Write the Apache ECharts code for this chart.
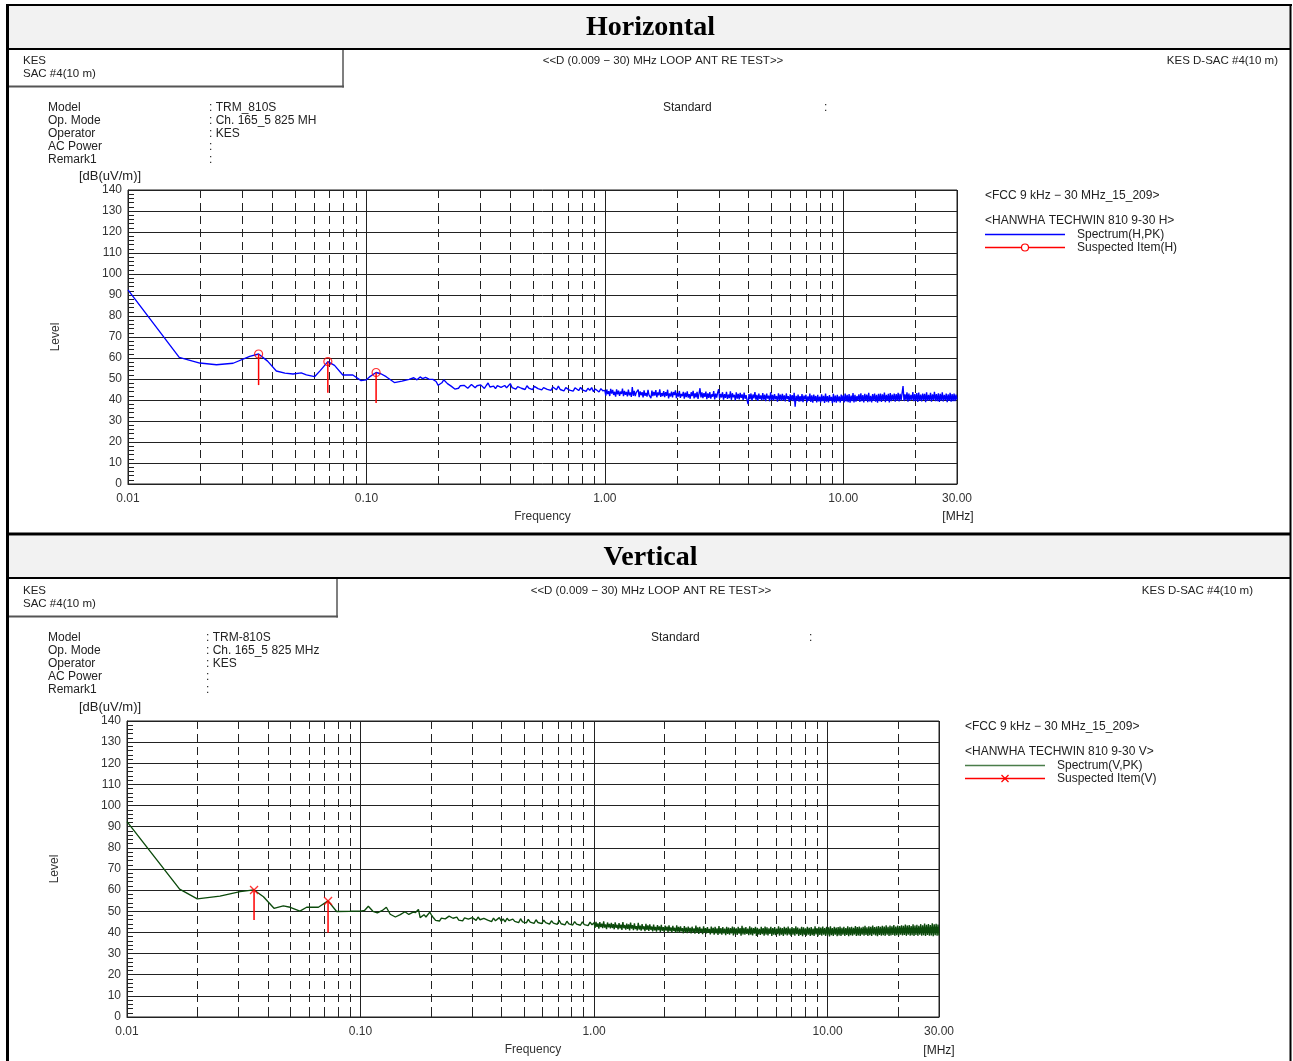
<!DOCTYPE html>
<html>
<head>
<meta charset="utf-8">
<script src="https://cdn.jsdelivr.net/npm/echarts@6/dist/echarts.min.js"></script>
<style>
html, body { margin: 0; padding: 0; background: #fff; }
#chart { width: 1293px; height: 1061px; }
</style>
</head>
<body>
<div id="chart"></div>
<script>
// ---------- axes ----------
const freqRange = [0.01, 30];          // MHz
const levelRange = [0, 140];           // dB(uV/m)
const levelStep = 10;
const gridFreqs = [0.02, 0.03, 0.04, 0.05, 0.06, 0.07, 0.08, 0.09,
                   0.2, 0.3, 0.4, 0.5, 0.6, 0.7, 0.8, 0.9,
                   2, 3, 4, 5, 6, 7, 8, 9, 20];

// ---------- Horizontal polarisation ----------
const lowFreqH = [0.01, 0.0164, 0.02, 0.0235, 0.0276, 0.0324, 0.0353, 0.0385, 0.0419, 0.0455,
                  0.0492, 0.0533, 0.056, 0.0606, 0.064, 0.0689, 0.0735, 0.0796, 0.0877, 0.095,
                  0.1, 0.103, 0.1098, 0.115, 0.121, 0.131, 0.141, 0.151, 0.158, 0.163,
                  0.168, 0.172, 0.177, 0.183, 0.19, 0.196];
const lowLevelH = [92.4, 60.3, 57.6, 56.8, 57.5, 60.8, 61.9, 58.5, 53.8, 52.8,
                   52.4, 52.9, 52.0, 51.1, 54.0, 58.3, 56.5, 51.9, 51.9, 49.2,
                   49.6, 51.0, 53.1, 52.5, 51.1, 48.3, 49.0, 49.8, 50.6, 49.6,
                   51.0, 50.2, 50.8, 49.9, 49.8, 48.8];

const sweepRangeH1 = [0.2, 0.98];
const sweepLevelH1 = [
  47.0, 46.4, 48.2, 49.6, 49.0, 47.8, 47.2, 46.6, 46.0, 45.2,
  44.8, 45.6, 46.8, 46.2, 47.0, 46.4, 45.6, 46.2, 47.4, 46.6,
  45.8, 46.8, 45.9, 47.2, 46.3, 45.5, 46.9, 48.1, 46.2, 45.8,
  46.6, 45.4, 46.8, 47.5, 46.0, 45.6, 46.9, 45.8, 46.4, 47.8,
  45.9, 46.6, 45.2, 46.4, 47.1, 45.6, 46.2, 45.0, 46.8, 45.7,
  46.3, 44.9, 46.5, 47.3, 45.4, 46.0, 44.8, 45.9, 46.7, 45.1,
  45.8, 44.6, 46.2, 45.4, 44.9, 46.6, 45.0, 45.7, 44.3, 45.9,
  46.8, 44.7, 45.5, 44.2, 45.8, 45.1, 44.5, 46.0, 44.8, 45.3,
  44.1, 45.6, 44.6, 45.9, 44.0, 45.2, 44.7, 43.8, 45.4, 44.4
];

const sweepRangeH2 = [1, 30];
const sweepLevelH2 = [
  44.6, 42.1, 45.0, 42.8, 44.2, 41.9, 45.3, 43.0, 44.8, 42.4, 43.9, 41.6, 45.1, 42.7, 44.5, 42.0, 44.0, 42.9, 45.4, 41.8,
  44.3, 42.5, 43.8, 41.7, 44.9, 42.2, 43.6, 41.5, 46.2, 42.0, 44.4, 41.9, 43.5, 42.6, 45.0, 41.4, 44.1, 42.3, 43.7, 41.2,
  44.6, 42.0, 43.4, 41.6, 44.8, 42.4, 43.2, 40.9, 44.5, 41.8, 43.9, 42.1, 44.7, 41.3, 43.6, 42.2, 45.1, 41.5, 43.3, 41.9,
  44.2, 41.4, 43.7, 42.0, 44.9, 40.8, 43.1, 41.7, 44.0, 41.2, 43.8, 42.3, 44.6, 40.9, 43.4, 41.6, 44.3, 41.0, 42.9, 41.8,
  43.9, 40.7, 43.5, 41.4, 44.1, 41.1, 42.8, 40.6, 43.7, 41.9, 44.4, 40.8, 43.2, 41.3, 43.9, 40.5, 43.0, 45.6, 41.2, 43.6,
  40.9, 43.3, 41.5, 44.0, 40.4, 43.1, 41.0, 43.8, 40.7, 42.7, 41.6, 44.2, 40.3, 43.0, 41.1, 43.5, 45.2, 40.6, 42.9, 41.2,
  43.7, 40.2, 42.8, 41.0, 43.9, 40.5, 42.6, 40.9, 44.1, 40.1, 43.2, 41.3, 42.5, 39.8, 43.6, 40.7, 42.9, 40.3, 43.4, 41.0,
  42.7, 40.0, 43.5, 40.6, 42.3, 39.9, 38.0, 42.8, 40.4, 43.1, 39.7, 42.6, 40.8, 43.8, 40.1, 42.4, 39.6, 43.0, 40.5, 42.2,
  39.8, 43.3, 40.2, 42.5, 39.5, 43.0, 40.7, 42.1, 39.4, 43.6, 40.0, 42.4, 39.7, 42.8, 40.3, 41.9, 39.2, 43.2, 40.1, 42.6,
  39.6, 42.9, 39.9, 42.2, 39.3, 43.1, 40.4, 41.8, 39.1, 42.7, 39.8, 42.3, 39.5, 43.4, 36.8, 42.0, 39.7, 42.6, 39.2, 41.9,
  39.4, 42.8, 39.0, 42.1, 40.2, 42.5, 38.9, 41.7, 39.6, 43.0, 39.1, 42.2, 38.7, 42.6, 39.8, 41.9, 38.8, 42.4, 39.3, 41.6,
  38.9, 42.7, 39.5, 42.0, 38.6, 43.1, 39.2, 41.8, 38.8, 42.3, 39.7, 41.5, 38.5, 42.9, 39.0, 42.1, 38.7, 42.5, 39.4, 41.7,
  38.8, 42.6, 39.6, 42.2, 38.9, 43.0, 39.3, 42.4, 39.0, 42.8, 38.7, 42.1, 39.5, 43.3, 38.9, 42.5, 39.2, 41.9, 39.8, 42.7,
  39.1, 43.2, 39.4, 42.3, 38.8, 42.9, 39.7, 42.6, 39.0, 43.4, 39.3, 42.0, 38.9, 42.8, 39.6, 43.1, 39.2, 42.5, 38.7, 42.9,
  39.5, 43.0, 39.1, 42.7, 39.8, 43.5, 39.0, 42.4, 39.6, 42.9, 38.9, 43.3, 39.4, 42.6, 39.9, 43.1, 39.2, 42.8, 39.7, 43.4,
  39.3, 42.9, 39.8, 43.2, 46.6, 39.5, 42.7, 39.9, 43.6, 39.2, 43.0, 39.7, 42.5, 40.0, 43.8, 39.4, 42.8, 39.6, 43.3, 39.1,
  43.5, 39.7, 42.6, 39.3, 43.1, 40.1, 42.9, 39.0, 43.7, 39.6, 42.4, 39.8, 43.4, 39.2, 42.7, 40.0, 43.9, 39.4, 42.8, 39.5,
  43.2, 39.1, 42.9, 39.7, 43.6, 39.3, 42.5, 39.9, 43.0, 39.0, 42.7, 39.6, 43.4, 39.2, 42.8, 39.5, 43.1, 39.4, 42.6, 40.2
];

const suspectFreqH = [0.0353, 0.0689, 0.1098];
const suspectPeakH = [61.9, 58.3, 53.1];
const suspectBaseH = [47.1, 43.5, 38.6];

// ---------- Vertical polarisation ----------
const lowFreqV = [0.01, 0.0168, 0.02, 0.025, 0.0305, 0.035, 0.0384, 0.0426, 0.0467, 0.05,
                  0.055, 0.0588, 0.066, 0.0726, 0.079, 0.09, 0.1, 0.104, 0.108, 0.113,
                  0.118, 0.124, 0.129, 0.134, 0.141, 0.148, 0.155, 0.161, 0.168, 0.172,
                  0.177];
const lowLevelV = [92.4, 60.5, 55.9, 57.2, 59.3, 60.1, 56.9, 51.4, 52.6, 51.9,
                   50.1, 51.9, 51.9, 54.9, 49.9, 50.0, 50.1, 50.4, 52.4, 50.0,
                   49.2, 50.4, 51.9, 48.6, 47.3, 48.4, 49.8, 48.5, 49.6, 49.4,
                   50.9];

const sweepRangeV1 = [0.18, 0.98];
const sweepLevelV1 = [
  47.0, 46.2, 48.4, 47.3, 46.5, 49.6, 48.0, 46.8, 45.7, 46.3,
  45.4, 46.8, 47.5, 46.4, 45.9, 47.7, 48.5, 46.7, 46.1, 47.2,
  45.8, 46.6, 45.5, 46.9, 47.8, 46.3, 45.6, 47.0, 46.2, 45.7,
  47.3, 46.0, 45.4, 46.6, 47.4, 45.8, 46.3, 45.1, 46.8, 45.5,
  46.1, 47.0, 45.3, 46.4, 45.0, 46.7, 45.6, 44.8, 46.3, 45.2,
  45.9, 44.6, 46.5, 45.0, 45.7, 44.5, 46.2, 44.9, 45.6, 44.3,
  46.0, 44.7, 45.4, 44.2, 45.8, 44.6, 45.1, 43.9, 45.5, 44.4,
  45.0, 43.8, 45.7, 44.1, 44.8, 43.6, 45.3, 44.0, 44.6, 43.5,
  45.1, 43.9, 44.7, 43.4, 45.0, 43.7, 44.4, 43.2, 44.9, 43.6
];

const sweepRangeV2 = [1, 30];
const sweepLevelV2 = [
  44.6, 42.2, 45.0, 42.6, 44.3, 41.8, 44.9, 42.5, 44.1, 42.0, 45.2, 42.3, 43.8, 41.6, 44.7, 42.4, 44.0, 41.9, 44.5, 42.1,
  43.9, 41.5, 44.8, 42.2, 43.6, 41.4, 44.4, 41.9, 43.7, 41.2, 44.9, 42.0, 43.5, 41.3, 44.2, 41.7, 43.8, 41.0, 44.6, 41.8,
  43.4, 41.1, 44.3, 41.6, 43.0, 40.9, 44.5, 41.4, 43.2, 40.8, 43.9, 41.5, 42.9, 40.6, 44.1, 41.2, 43.3, 40.7, 43.8, 41.3,
  42.8, 40.5, 43.7, 41.0, 42.6, 40.4, 43.5, 41.1, 42.9, 40.2, 43.6, 40.8, 42.5, 40.3, 43.2, 40.9, 42.7, 40.1, 43.4, 40.6,
  42.4, 40.0, 43.1, 40.7, 42.2, 39.8, 43.3, 40.4, 42.6, 39.9, 42.9, 40.5, 42.0, 39.6, 43.0, 40.2, 42.3, 39.7, 42.8, 40.3,
  42.1, 39.5, 42.7, 40.1, 41.9, 39.4, 43.2, 40.0, 42.4, 39.3, 42.6, 40.2, 41.8, 39.2, 42.9, 39.9, 42.0, 39.6, 42.5, 39.8,
  41.7, 39.1, 42.8, 39.7, 42.2, 38.9, 42.6, 39.5, 41.9, 38.8, 43.0, 39.4, 42.1, 39.0, 42.5, 39.6, 41.8, 38.7, 42.7, 39.3,
  42.3, 38.9, 42.0, 39.5, 42.8, 38.6, 42.4, 39.2, 41.9, 38.8, 42.6, 39.4, 42.1, 38.5, 43.1, 39.1, 42.2, 38.9, 42.5, 39.3,
  41.8, 38.7, 42.9, 39.0, 42.3, 38.6, 42.0, 39.4, 42.7, 38.4, 42.2, 39.1, 41.7, 38.8, 42.6, 39.2, 42.0, 38.5, 42.8, 39.0,
  42.4, 38.6, 41.9, 39.3, 42.7, 38.3, 42.1, 39.0, 42.5, 38.7, 41.8, 39.2, 42.9, 38.5, 42.3, 38.9, 42.0, 38.4, 42.6, 39.1,
  42.2, 38.6, 42.8, 39.0, 41.9, 38.3, 42.5, 38.9, 42.1, 38.5, 42.9, 39.2, 42.3, 38.4, 41.8, 38.8, 42.6, 38.2, 42.4, 39.0,
  41.9, 38.5, 42.7, 38.9, 42.2, 38.3, 42.5, 38.7, 41.8, 38.4, 42.9, 39.1, 42.0, 38.2, 42.6, 38.8, 42.3, 38.5, 42.8, 38.9,
  42.1, 38.3, 42.6, 38.8, 42.4, 38.1, 42.9, 38.7, 42.0, 38.4, 42.7, 39.0, 42.3, 38.2, 42.5, 38.6, 42.8, 38.3, 42.2, 38.9,
  42.6, 38.4, 42.1, 38.8, 42.9, 38.2, 42.4, 38.7, 42.7, 38.5, 42.2, 39.0, 43.0, 38.3, 42.5, 38.6, 42.8, 38.4, 42.3, 38.9,
  42.7, 38.5, 43.1, 38.8, 42.4, 38.3, 42.9, 38.7, 42.6, 38.4, 43.2, 39.0, 42.5, 38.6, 42.8, 38.2, 43.0, 38.8, 42.6, 38.5,
  43.1, 38.7, 42.8, 38.4, 43.4, 38.9, 42.7, 38.3, 43.2, 38.6, 42.9, 38.8, 43.5, 38.4, 42.8, 38.7, 43.3, 38.5, 43.0, 38.9,
  43.4, 38.6, 43.1, 38.8, 43.7, 38.4, 43.2, 38.9, 43.5, 38.5, 43.0, 38.7, 43.8, 38.3, 43.3, 38.8, 43.6, 38.4, 43.1, 38.9,
  43.9, 38.5, 43.4, 38.7, 44.2, 38.3, 43.6, 38.8, 44.0, 38.4, 43.5, 38.6, 44.3, 38.2, 43.8, 38.7, 44.1, 38.5, 43.7, 38.6
];

const suspectFreqV = [0.035, 0.0726];
const suspectPeakV = [60.1, 54.9];
const suspectBaseV = [45.9, 39.9];

// ---------- helpers ----------
const FONT = '"Liberation Sans", Arial, sans-serif';
const INK = '#222';

function pairs(freqs, levels) { return freqs.map((f, i) => [f, levels[i]]); }
// receiver sweep: points equally spaced in log frequency between start and stop
function sweep(range, levels) {
  const n = levels.length, r = range[1] / range[0];
  return levels.map((v, i) => [range[0] * Math.pow(r, i / (n - 1)), v]);
}

function T(x, y, text, o) {
  o = o || {};
  const align = o.align || 'left';
  return {
    type: 'text', x: x, y: y, silent: true, z: 10,
    style: {
      text: text, fill: o.fill || INK,
      font: (o.weight ? o.weight + ' ' : '') + (o.size || 12) + 'px ' + (o.family || FONT),
      textAlign: align, textVerticalAlign: 'middle', align: align, verticalAlign: 'middle'
    }
  };
}
function L(x1, y1, x2, y2, color, w) {
  return { type: 'line', silent: true, z: 10, shape: { x1: x1, y1: y1, x2: x2, y2: y2 },
           style: { stroke: color, lineWidth: w || 1 } };
}
function R(x, y, w, h, fill) {
  return { type: 'rect', silent: true, z: 0, shape: { x: x, y: y, width: w, height: h }, style: { fill: fill } };
}

const infoLabels = ['Model', 'Op. Mode', 'Operator', 'AC Power', 'Remark1'];
const infoValuesH = [': TRM_810S', ': Ch. 165_5 825 MH', ': KES', ':', ':'];
const infoValuesV = [': TRM-810S', ': Ch. 165_5 825 MHz', ': KES', ':', ':'];

function panelGraphics(p) {
  const g = [];
  // banner
  g.push(R(8, p.bandTop, 1282, p.bandH, '#f2f2f2'));
  g.push(T(650.5, p.bandTop + p.bandH / 2 + 1, p.title, { size: 28, weight: 'bold', family: '"Liberation Serif", "Times New Roman", serif', align: 'center', fill: '#000' }));
  // site box
  g.push(L(p.boxRight, p.bandTop + p.bandH + 1, p.boxRight, p.boxBottom + 1, '#555', 1.5));
  g.push(L(8, p.boxBottom, p.boxRight + 1, p.boxBottom, '#555', 2));
  g.push(T(23, p.headY, 'KES', { size: 11.5 }));
  g.push(T(23, p.headY + 13, 'SAC #4(10 m)', { size: 11.5 }));
  g.push(T(p.centerX, p.headY, '<<D (0.009 \u2212 30) MHz LOOP ANT RE TEST>>', { align: 'center', size: 11.5 }));
  g.push(T(p.rightX, p.headY, 'KES D-SAC #4(10 m)', { align: 'right', size: 11.5 }));
  // test info
  infoLabels.forEach((s, i) => {
    g.push(T(48, p.infoY + 13 * i, s));
    g.push(T(p.valX, p.infoY + 13 * i, p.values[i]));
  });
  g.push(T(p.stdX, p.infoY, 'Standard'));
  g.push(T(p.stdColonX, p.infoY, ':'));
  g.push(T(79, p.unitY, '[dB(uV/m)]', { size: 13 }));
  g.push(T(p.mhzX, p.mhzY, '[MHz]', { align: 'center' }));
  // legend
  const lx = p.legX, ly = p.legY;
  g.push(T(lx, ly, '<FCC 9 kHz \u2212 30 MHz_15_209>'));
  g.push(T(lx, ly + 25, p.legTitle));
  g.push(L(lx, ly + 38.5, lx + 80, ly + 38.5, p.traceColor, 1.5));
  g.push(T(lx + 92, ly + 39, p.traceName));
  g.push(L(lx, ly + 51.5, lx + 80, ly + 51.5, '#ff0000', 1.3));
  if (p.marker === 'circle') {
    g.push({ type: 'circle', silent: true, z: 11, shape: { cx: lx + 40, cy: ly + 51.5, r: 3.5 },
             style: { fill: '#fff', stroke: '#ff0000', lineWidth: 1.2 } });
  } else {
    g.push(L(lx + 36.5, ly + 48, lx + 43.5, ly + 55, '#ff0000', 1.2));
    g.push(L(lx + 43.5, ly + 48, lx + 36.5, ly + 55, '#ff0000', 1.2));
  }
  g.push(T(lx + 92, ly + 52, p.suspectName));
  return g;
}

const graphics = []
  .concat(panelGraphics({
    title: 'Horizontal', bandTop: 6, bandH: 42, boxRight: 343, boxBottom: 86.5, headY: 61,
    centerX: 663, rightX: 1278, infoY: 108, valX: 209, values: infoValuesH, stdX: 663, stdColonX: 824,
    unitY: 176, mhzX: 958, mhzY: 517, legX: 985, legY: 196, legTitle: '<HANWHA TECHWIN 810 9-30 H>',
    traceColor: '#0000ff', traceName: 'Spectrum(H,PK)', marker: 'circle', suspectName: 'Suspected Item(H)'
  }))
  .concat(panelGraphics({
    title: 'Vertical', bandTop: 536, bandH: 41, boxRight: 337, boxBottom: 616.5, headY: 591,
    centerX: 651, rightX: 1253, infoY: 638, valX: 206, values: infoValuesV, stdX: 651, stdColonX: 809,
    unitY: 707, mhzX: 939, mhzY: 1051, legX: 965, legY: 727, legTitle: '<HANWHA TECHWIN 810 9-30 V>',
    traceColor: '#4a7d4a', traceName: 'Spectrum(V,PK)', marker: 'cross', suspectName: 'Suspected Item(V)'
  }))
  .concat([
    // table rules
    L(6, 5, 1292, 5, '#000', 2),
    L(8, 49, 1290, 49, '#000', 2),
    L(8, 534, 1290, 534, '#000', 3),
    L(8, 578, 1290, 578, '#000', 2),
    L(7.5, 4, 7.5, 1061, '#000', 3),
    L(1290.5, 4, 1290.5, 1061, '#000', 2)
  ]);

// ---------- chart ----------
const grids = [
  { left: 128, top: 190, width: 829, height: 294 },
  { left: 127, top: 721, width: 812, height: 296 }
];

function xAxisFor(i) {
  return {
    type: 'log', logBase: 10, gridIndex: i, min: freqRange[0], max: freqRange[1],
    axisLine: { show: true, lineStyle: { color: INK, width: 1 } },
    axisTick: { show: false },
    axisLabel: { formatter: v => Number(v).toFixed(2), color: '#333', fontSize: 12, margin: 9, fontFamily: FONT },
    splitLine: { show: true, lineStyle: { color: INK, width: 1 } },
    name: 'Frequency', nameLocation: 'middle', nameGap: 27,
    nameTextStyle: { color: '#333', fontSize: 12, fontFamily: FONT }
  };
}
function yAxisFor(i) {
  return {
    type: 'value', gridIndex: i, min: levelRange[0], max: levelRange[1], interval: levelStep,
    axisLine: { show: true, lineStyle: { color: INK, width: 1 } },
    axisTick: { show: true, inside: true, length: 6, lineStyle: { color: INK } },
    minorTick: { show: true, splitNumber: 5, length: 6, lineStyle: { color: INK } },
    axisLabel: { color: '#333', fontSize: 12, margin: 6, fontFamily: FONT },
    splitLine: { show: true, lineStyle: { color: INK, width: 1 } },
    name: 'Level', nameLocation: 'middle', nameGap: 66, nameRotate: 90,
    nameTextStyle: { color: '#333', fontSize: 12, fontFamily: FONT }
  };
}

function gridLineSeries(i) {
  return {
    type: 'custom', xAxisIndex: i, yAxisIndex: i, z: 1, silent: true,
    encode: { x: 0, y: 1 },
    data: gridFreqs.map(f => [f, levelRange[0]]),
    renderItem: (params, api) => {
      const f = api.value(0);
      const top = api.coord([f, levelRange[1]]);
      const bot = api.coord([f, levelRange[0]]);
      const x = Math.round(top[0]) + 0.5;
      return {
        type: 'group', children: [
          { type: 'line', shape: { x1: x, y1: top[1], x2: x, y2: bot[1] },
            style: { stroke: INK, lineWidth: 1, lineDash: [8, 5] } },
          { type: 'line', shape: { x1: x, y1: bot[1], x2: x, y2: bot[1] - 5 },
            style: { stroke: INK, lineWidth: 1 } }
        ]
      };
    }
  };
}

function stemSeries(i, freqs, peaks, bases) {
  return {
    type: 'custom', xAxisIndex: i, yAxisIndex: i, z: 4, silent: true,
    encode: { x: 0, y: [1, 2] },
    data: freqs.map((f, k) => [f, peaks[k], bases[k]]),
    renderItem: (params, api) => {
      const a = api.coord([api.value(0), api.value(1)]);
      const b = api.coord([api.value(0), api.value(2)]);
      return { type: 'line', shape: { x1: a[0], y1: a[1], x2: b[0], y2: b[1] },
               style: { stroke: '#ff0000', lineWidth: 1.5 } };
    }
  };
}

function traceSeries(i, name, color, data) {
  return {
    type: 'line', name: name, xAxisIndex: i, yAxisIndex: i, z: 3,
    data: data, showSymbol: false, symbol: 'none', sampling: 'none',
    lineStyle: { color: color, width: 1.35 }, silent: true
  };
}

const traceH = pairs(lowFreqH, lowLevelH).concat(sweep(sweepRangeH1, sweepLevelH1), sweep(sweepRangeH2, sweepLevelH2));
const traceV = pairs(lowFreqV, lowLevelV).concat(sweep(sweepRangeV1, sweepLevelV1), sweep(sweepRangeV2, sweepLevelV2));

const option = {
  animation: false,
  backgroundColor: '#fff',
  textStyle: { fontFamily: FONT },
  grid: grids.map(g => Object.assign({ show: true, borderColor: INK, borderWidth: 1, backgroundColor: '#fff',
                                       containLabel: false, outerBoundsMode: 'none' }, g)),
  xAxis: [xAxisFor(0), xAxisFor(1)],
  yAxis: [yAxisFor(0), yAxisFor(1)],
  graphic: { elements: graphics },
  series: [
    gridLineSeries(0),
    gridLineSeries(1),
    traceSeries(0, 'Spectrum(H,PK)', '#0000ff', traceH),
    traceSeries(1, 'Spectrum(V,PK)', '#0b4a0b', traceV),
    stemSeries(0, suspectFreqH, suspectPeakH, suspectBaseH),
    stemSeries(1, suspectFreqV, suspectPeakV, suspectBaseV),
    {
      type: 'scatter', name: 'Suspected Item(H)', xAxisIndex: 0, yAxisIndex: 0, z: 5, silent: true,
      data: pairs(suspectFreqH, suspectPeakH), symbol: 'circle', symbolSize: 8,
      itemStyle: { color: 'rgba(255,255,255,0)', borderColor: '#ff0000', borderWidth: 1.2 }
    },
    {
      type: 'scatter', name: 'Suspected Item(V)', xAxisIndex: 1, yAxisIndex: 1, z: 5, silent: true,
      data: pairs(suspectFreqV, suspectPeakV), symbol: 'path://M0,0L10,10M10,0L0,10', symbolSize: 8,
      itemStyle: { color: 'rgba(255,255,255,0)', borderColor: '#ff0000', borderWidth: 1.3 }
    }
  ]
};

const chart = echarts.init(document.getElementById('chart'), null, { renderer: 'canvas' });
chart.setOption(option);
</script>
</body>
</html>
